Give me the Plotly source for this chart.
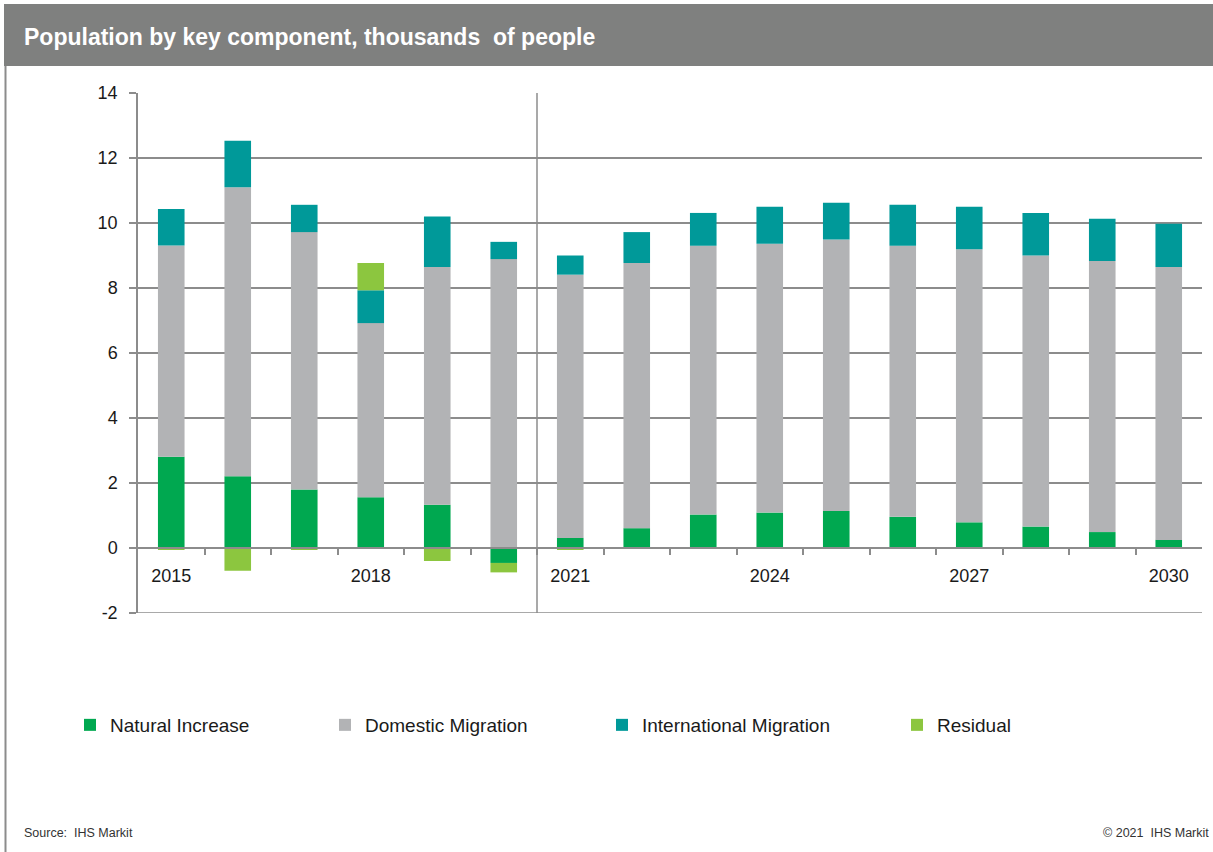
import plotly.graph_objects as go

years = list(range(2015, 2031))
natural_increase = [2.81, 2.21, 1.80, 1.56, 1.33, -0.46, 0.31, 0.61, 1.03, 1.09, 1.14, 0.96, 0.79, 0.66, 0.49, 0.25]
domestic_migration = [6.50, 8.89, 7.92, 5.36, 7.32, 8.89, 8.10, 8.16, 8.27, 8.27, 8.35, 8.34, 8.40, 8.34, 8.34, 8.40]
international_migration = [1.12, 1.43, 0.84, 1.01, 1.55, 0.53, 0.59, 0.95, 1.01, 1.14, 1.13, 1.26, 1.31, 1.31, 1.30, 1.33]
residual = [-0.06, -0.70, -0.06, 0.84, -0.40, -0.29, -0.06, 0, 0, 0, 0, 0, 0, 0, 0, 0]

x_tick_vals = [2015, 2018, 2021, 2024, 2027, 2030]
x_tick_text = ["2015", "2018", "2021", "2024", "2027", "2030"]
y_tick_vals = [-2, 0, 2, 4, 6, 8, 10, 12, 14]
y_tick_text = ["-2", "0", "2", "4", "6", "8", "10", "12", "14"]

series_names = ["Natural Increase", "Domestic Migration", "International Migration", "Residual"]
series_colors = ["#00a850", "#b2b3b5", "#009999", "#8cc63f"]

W, H = 1213, 852
ML, MR, MT, MB = 138, 11, 93, 239
PW = W - ML - MR
PH = H - MT - MB

def px_x(px):
    return (px - ML) / PW

def px_y(py):
    return (H - MB - py) / PH

FONT = "Liberation Sans, Arial, sans-serif"
GRID = "#8c8c8c"

fig = go.Figure()
data = [natural_increase, domestic_migration, international_migration, residual]
legend_ids = ["legend", "legend2", "legend3", "legend4"]
for name, vals, col, lg in zip(series_names, data, series_colors, legend_ids):
    fig.add_trace(go.Bar(
        x=years, y=vals, name=name, width=0.4,
        marker=dict(color=col, line=dict(width=0)),
        legend=lg,
    ))

legend_text_x = [110, 365, 642, 937]
legend_common = dict(
    orientation="h", xref="container", yref="container",
    yanchor="middle", xanchor="left", y=1 - 725 / H,
    font=dict(family=FONT, size=19, color="#1a1a1a"),
    bgcolor="rgba(0,0,0,0)", itemwidth=30,
)
layout_legends = {}
for lg, tx in zip(legend_ids, legend_text_x):
    layout_legends[lg] = dict(legend_common, x=(tx - 40) / W)

fig.update_layout(
    width=W, height=H,
    margin=dict(l=ML, r=MR, t=MT, b=MB),
    paper_bgcolor="white", plot_bgcolor="white",
    barmode="relative",
    showlegend=True,
    font=dict(family=FONT, color="#1a1a1a"),
    xaxis=dict(
        range=[2014.5, 2030.5],
        tickvals=x_tick_vals, ticktext=x_tick_text,
        ticks="", showgrid=False, zeroline=False,
        showline=True, linecolor=GRID, linewidth=1.5,
        anchor="free", position=2 / 16,
        tickfont=dict(family=FONT, size=18, color="#1a1a1a"),
        ticklabelstandoff=12,
        minor=dict(tickvals=[y + 0.5 for y in years[:-1]], ticks="outside",
                   ticklen=6, tickcolor=GRID, tickwidth=1.5, showgrid=False),
        fixedrange=True,
    ),
    yaxis=dict(
        range=[-2, 14], tickvals=y_tick_vals, ticktext=y_tick_text,
        showgrid=True, gridcolor=GRID, gridwidth=1.5,
        zeroline=False, showline=True, linecolor=GRID, linewidth=1.5,
        ticks="outside", ticklen=7, tickcolor=GRID, tickwidth=1.5,
        tickfont=dict(family=FONT, size=18, color="#1a1a1a"),
        ticklabelstandoff=8,
        fixedrange=True,
    ),
    **layout_legends,
)

shapes = [
    # header bar
    dict(type="rect", xref="paper", yref="paper",
         x0=px_x(4), x1=px_x(W + 5), y0=px_y(66), y1=px_y(4),
         fillcolor="#7f807f", line=dict(width=0), layer="below"),
    # left frame line
    dict(type="line", xref="paper", yref="paper",
         x0=px_x(5.5), x1=px_x(5.5), y0=px_y(66), y1=px_y(H + 5),
         line=dict(color="#8c8c8c", width=2)),
    # bottom gridline at -2
    dict(type="line", xref="paper", yref="y",
         x0=0, x1=1, y0=-2, y1=-2,
         line=dict(color=GRID, width=1.5)),
    # forecast divider
    dict(type="line", xref="x", yref="y",
         x0=2020.5, x1=2020.5, y0=-2, y1=14,
         line=dict(color=GRID, width=1.5)),
]
fig.update_layout(shapes=shapes)

annotations = [
    dict(text="Population by key component, thousands  of people",
         xref="paper", yref="paper", x=px_x(22), y=px_y(37),
         xanchor="left", yanchor="middle", showarrow=False,
         font=dict(family=FONT, size=23, color="white", weight="bold")),
    dict(text="Source:  IHS Markit",
         xref="paper", yref="paper", x=px_x(22), y=px_y(833),
         xanchor="left", yanchor="middle", showarrow=False,
         font=dict(family=FONT, size=12.5, color="#333333")),
    dict(text="© 2021  IHS Markit",
         xref="paper", yref="paper", x=px_x(1211), y=px_y(833),
         xanchor="right", yanchor="middle", showarrow=False,
         font=dict(family=FONT, size=12.5, color="#333333")),
]
fig.update_layout(annotations=annotations)

fig.write_html(
    "out.html",
    config={"displayModeBar": False},
    post_script="document.body.style.margin='0';document.body.style.overflow='hidden';",
)
